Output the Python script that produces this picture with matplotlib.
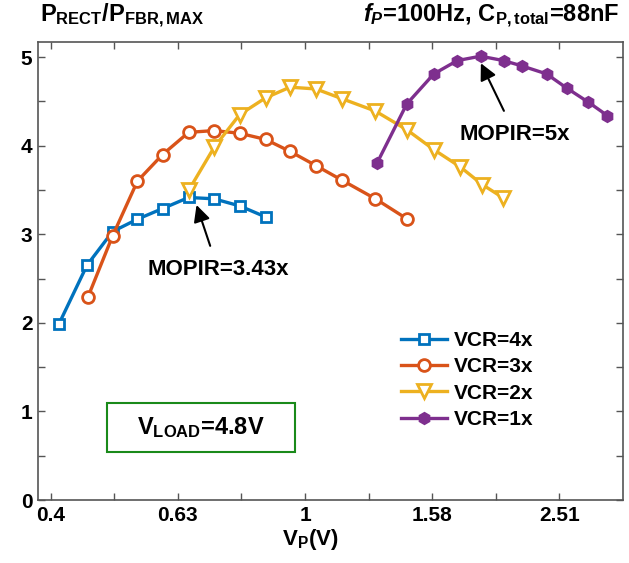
import matplotlib
matplotlib.use("Agg")
import matplotlib.pyplot as plt
from matplotlib.patches import Rectangle
from matplotlib.ticker import FixedLocator, NullLocator

fam = ['Liberation Sans Narrow', 'Liberation Sans', 'DejaVu Sans']
plt.rcParams['font.family'] = fam
plt.rcParams['font.weight'] = 'bold'
plt.rcParams['mathtext.fontset'] = 'custom'
plt.rcParams['mathtext.rm'] = 'Liberation Sans:bold'
plt.rcParams['mathtext.it'] = 'Liberation Sans:italic:bold'
plt.rcParams['mathtext.bf'] = 'Liberation Sans:bold'

# data (V_P in volts, normalized power)
vp_4x = [0.41, 0.454, 0.498, 0.545, 0.597, 0.656, 0.719, 0.789, 0.867]
p_4x = [1.985, 2.65, 3.03, 3.17, 3.29, 3.415, 3.40, 3.32, 3.195]

vp_3x = [0.4555, 0.498, 0.545, 0.597, 0.656, 0.719, 0.789, 0.867, 0.947, 1.04, 1.143, 1.29, 1.445]
p_3x = [2.29, 2.98, 3.60, 3.90, 4.15, 4.17, 4.14, 4.07, 3.935, 3.775, 3.61, 3.40, 3.175]

vp_2x = [0.656, 0.72, 0.789, 0.867, 0.947, 1.04, 1.143, 1.29, 1.445, 1.594, 1.754, 1.90, 2.05]
p_2x = [3.495, 3.985, 4.35, 4.54, 4.66, 4.64, 4.53, 4.39, 4.18, 3.955, 3.76, 3.56, 3.41]

vp_1x = [1.297, 1.445, 1.594, 1.735, 1.888, 2.052, 2.193, 2.397, 2.579, 2.79, 2.987]
p_1x = [3.80, 4.47, 4.81, 4.96, 5.01, 4.96, 4.90, 4.81, 4.65, 4.49, 4.34]

xticks = [10 ** (k * 0.1) for k in range(-4, 5)]
xlabels = ['0.4', '', '0.63', '', '1', '', '1.58', '', '2.51']
yticks = [i * 0.5 for i in range(11)]
ylabels = [str(int(t)) if t == int(t) else '' for t in yticks]

fig = plt.figure(figsize=(6.29, 5.63), dpi=100)
ax = fig.add_axes([0.0604, 0.1119, 0.9301, 0.8135])

ax.plot(vp_4x, p_4x, color='#0072BD', lw=2.4, marker='s', ms=6.5, mfc='white', mew=2, label='VCR=4x')
ax.plot(vp_3x, p_3x, color='#D95319', lw=2.4, marker='o', ms=8.5, mfc='white', mew=2, label='VCR=3x')
ax.plot(vp_2x, p_2x, color='#EDB120', lw=2.4, marker='v', ms=9.5, mfc='white', mew=2, label='VCR=2x')
ax.plot(vp_1x, p_1x, color='#7E2F8E', lw=2.4, marker='h', ms=8, mfc='#7E2F8E', mew=1.5, label='VCR=1x')

ax.set_xscale('log')
ax.set_xlim(10 ** -0.42, 10 ** 0.5)
ax.set_ylim(0, 5.17)
ax.xaxis.set_major_locator(FixedLocator(xticks))
ax.xaxis.set_minor_locator(NullLocator())
ax.set_xticklabels(xlabels)
ax.set_yticks(yticks)
ax.set_yticklabels(ylabels)
ax.tick_params(direction='in', top=True, right=True, length=5, width=1, colors='#555555',
               labelcolor='black', labelsize=15, pad=4)
for s in ax.spines.values():
    s.set_color('#555555')
    s.set_linewidth(1.2)

ax.set_xlabel(r'V$_\mathregular{P}$(V)', fontsize=16, fontweight='bold', va='top')
ax.xaxis.set_label_coords(0.465, -0.058)

fig.text(0.064, 0.972, r'P$_\mathregular{RECT}$/P$_\mathregular{FBR,MAX}$', fontsize=17, va='center', ha='left')
fig.text(0.985, 0.972, r'$f_P$=100Hz, C$_\mathregular{P,total}$=88nF', fontsize=17, va='center', ha='right')

ax.annotate('MOPIR=3.43x', xy=(0.675, 3.33), xytext=(0.73, 2.6), fontsize=16, ha='center', va='center',
            arrowprops=dict(arrowstyle='-|>', color='black', lw=1.5, mutation_scale=25, shrinkB=0, shrinkA=8))
ax.annotate('MOPIR=5x', xy=(1.89, 4.93), xytext=(2.14, 4.13), fontsize=16, ha='center', va='center',
            arrowprops=dict(arrowstyle='-|>', color='black', lw=1.5, mutation_scale=25, shrinkB=0, shrinkA=8))

ax.add_patch(Rectangle((0.118, 0.105), 0.321, 0.107, transform=ax.transAxes, fc='white',
                       ec='#1a8a1a', lw=1.5, zorder=3))
ax.text(0.2785, 0.158, r'V$_\mathregular{LOAD}$=4.8V', transform=ax.transAxes, fontsize=17,
        ha='center', va='center', zorder=4)

ax.legend(loc='center left', bbox_to_anchor=(0.62, 0.262), frameon=False, fontsize=15,
          handlelength=2.2, handletextpad=0.35, labelspacing=0.35, borderpad=0, borderaxespad=0)

fig.savefig('out.png', dpi=100)
